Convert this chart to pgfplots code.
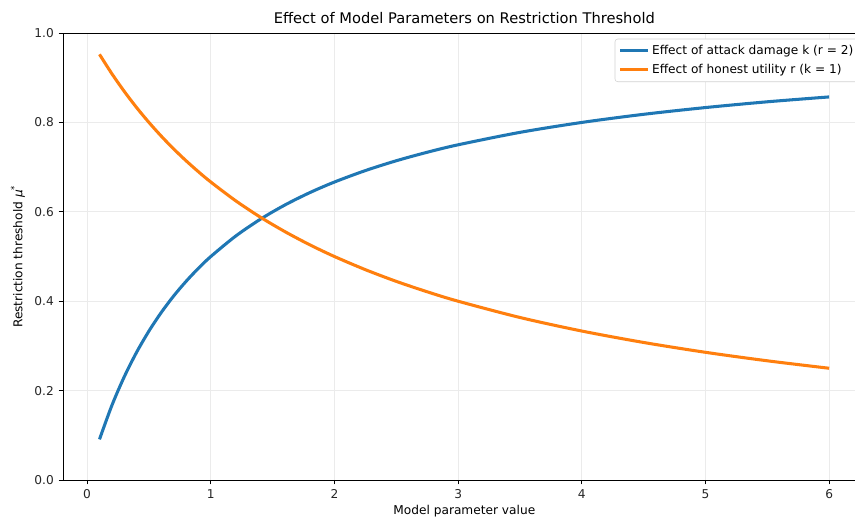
\documentclass[border=0pt]{standalone}
\usepackage{fontspec}
\setmainfont{DejaVu Sans}
\usepackage{pgfplots}
\pgfplotsset{compat=1.18}
\definecolor{tabblue}{HTML}{1F77B4}
\definecolor{taborange}{HTML}{FF7F0E}

\pgfplotstableread{
x y
0.1 0.0909
0.2 0.1667
0.3 0.2308
0.4 0.2857
0.5 0.3333
0.6 0.3750
0.7 0.4118
0.8 0.4444
0.9 0.4737
1.0 0.5000
1.2 0.5455
1.4 0.5833
1.6 0.6154
1.8 0.6429
2.0 0.6667
2.25 0.6923
2.5 0.7143
2.75 0.7333
3.0 0.7500
3.5 0.7778
4.0 0.8000
4.5 0.8182
5.0 0.8333
5.5 0.8462
6.0 0.8571
}\attackdamage

\pgfplotstableread{
x y
0.1 0.9524
0.2 0.9091
0.3 0.8696
0.4 0.8333
0.5 0.8000
0.6 0.7692
0.7 0.7407
0.8 0.7143
0.9 0.6897
1.0 0.6667
1.2 0.6250
1.4 0.5882
1.6 0.5556
1.8 0.5263
2.0 0.5000
2.25 0.4706
2.5 0.4444
2.75 0.4211
3.0 0.4000
3.5 0.3636
4.0 0.3333
4.5 0.3077
5.0 0.2857
5.5 0.2667
6.0 0.2500
}\honestutility

\begin{document}
\begin{tikzpicture}
\path (0,0) rectangle (615.6bp,372.24bp);
\begin{pgfinterruptboundingbox}
\begin{axis}[
  at={(45.36bp,26.64bp)}, anchor=south west,
  width=577.9bp, height=321.8bp, scale only axis,
  xmin=-0.195, xmax=6.295, ymin=0, ymax=1,
  axis x line*=box, axis y line*=left,
  xtick={0,1,2,3,4,5,6},
  ytick={0,0.2,0.4,0.6,0.8,1.0},
  /pgf/number format/assume math mode=true,
  yticklabel style={/pgf/number format/.cd, fixed, fixed zerofill, precision=1},
  tick align=outside, xtick pos=bottom, ytick pos=left,
  major tick length=3.1bp,
  every tick/.style={black, line width=0.7bp},
  axis line style={line width=0.7bp, -},
  ticklabel style={font=\fontsize{8.8}{10.5}\selectfont, text=black!85},
  grid=major,
  major grid style={gray!16, line width=0.7bp},
  title={Effect of Model Parameters on Restriction Threshold},
  title style={font=\fontsize{10.6}{12.5}\selectfont, yshift=-3bp},
  xlabel={Model parameter value},
  ylabel={Restriction threshold \textit{μ}\textsuperscript{*}},
  label style={font=\fontsize{8.8}{10.5}\selectfont},
  xlabel style={yshift=2bp},
  legend style={font=\fontsize{8.8}{10.5}\selectfont, draw=gray!35, rounded corners=2bp,
    at={(1,1)}, xshift=-4.3bp, yshift=-4.3bp, anchor=north east,
    row sep=1.5bp, inner sep=2.5bp, outer sep=0pt},
  legend cell align=left,
  legend image code/.code={\draw[#1, line width=2.2bp] (0bp,0bp) -- (20bp,0bp);},
]
\addplot[tabblue, line width=2.2bp, smooth] table {\attackdamage};
\addlegendentry{Effect of attack damage k (r = 2)}
\addplot[taborange, line width=2.2bp, smooth] table {\honestutility};
\addlegendentry{Effect of honest utility r (k = 1)}
\end{axis}
\end{pgfinterruptboundingbox}
\end{tikzpicture}
\end{document}
